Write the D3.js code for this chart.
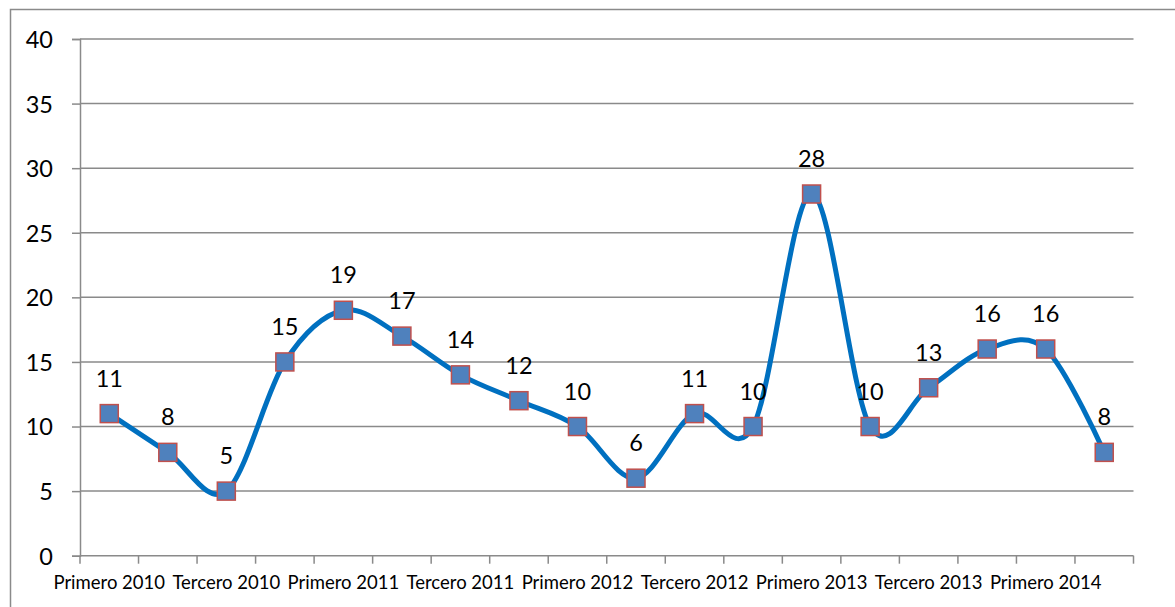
<!DOCTYPE html>
<html>
<head>
<meta charset="utf-8">
<script src="https://cdn.jsdelivr.net/npm/d3@7"></script>
<style>
  body { margin: 0; background: #fff; }
  svg { display: block; }
  text { font-family: Lato, "Open Sans", sans-serif; fill: #000; }
</style>
</head>
<body>
<svg id="chart" width="1175" height="607"></svg>
<script>
// quarters (trimestres) 2010 - 2014
const categories = [
  'Primero 2010', 'Segundo 2010', 'Tercero 2010', 'Cuarto 2010',
  'Primero 2011', 'Segundo 2011', 'Tercero 2011', 'Cuarto 2011',
  'Primero 2012', 'Segundo 2012', 'Tercero 2012', 'Cuarto 2012',
  'Primero 2013', 'Segundo 2013', 'Tercero 2013', 'Cuarto 2013',
  'Primero 2014', 'Segundo 2014'
];
const values = [11, 8, 5, 15, 19, 17, 14, 12, 10, 6, 11, 10, 28, 10, 13, 16, 16, 8];
const yTicks = [0, 5, 10, 15, 20, 25, 30, 35, 40];

const svg = d3.select('#chart');
const plotLeft = 80, plotRight = 1133.5, plotTop = 39, plotBottom = 555.7;
const grey = '#8a8a8a';

// outer chart border (only top and left show)
svg.append('rect')
  .attr('x', 10.5).attr('y', 9.5)
  .attr('width', 1200).attr('height', 700)
  .attr('fill', 'none').attr('stroke', grey).attr('stroke-width', 1.5);

const x = d3.scaleBand().domain(categories).range([plotLeft, plotRight]).padding(0);
const y = d3.scaleLinear().domain([0, 40]).range([plotBottom, plotTop]);

/// gridlines
svg.append('g').selectAll('line')
  .data(yTicks.filter(d => d > 0))
  .enter().append('line')
  .attr('x1', plotLeft).attr('x2', plotRight)
  .attr('y1', d => y(d)).attr('y2', d => y(d))
  .attr('stroke', grey).attr('stroke-width', 1.5);

/// y axis
const yAxis = svg.append('g')
  .attr('transform', `translate(${plotLeft},0)`)
  .call(d3.axisLeft(y).tickValues(yTicks).tickSize(8).tickPadding(19));
yAxis.select('.domain').attr('stroke', grey).attr('stroke-width', 1.5);
yAxis.selectAll('.tick line').attr('stroke', grey).attr('stroke-width', 1.5);
yAxis.selectAll('.tick text')
  .style('font-size', '23.5px').style('font-family', 'Lato, sans-serif')
  .attr('fill', '#000').attr('dy', '0.36em');

/// x axis : ticks on category boundaries, labels on every other category
const bounds = categories.map(c => x(c)).concat([plotRight]);
const xg = svg.append('g');
xg.append('line')
  .attr('x1', plotLeft).attr('x2', plotRight).attr('y1', plotBottom).attr('y2', plotBottom)
  .attr('stroke', grey).attr('stroke-width', 1.5);
xg.selectAll('line.tick')
  .data(bounds)
  .enter().append('line')
  .attr('class', 'tick')
  .attr('x1', d => d).attr('x2', d => d)
  .attr('y1', plotBottom).attr('y2', plotBottom + 8)
  .attr('stroke', grey).attr('stroke-width', 1.5);
xg.selectAll('text')
  .data(categories.filter((c, i) => i % 2 === 0))
  .enter().append('text')
  .attr('x', d => x(d) + x.bandwidth() / 2)
  .attr('y', 589)
  .attr('text-anchor', 'middle')
  .style('font-size', '18.5px')
  .text(d => d);

/// smoothed line
const points = values.map((v, i) => [x(categories[i]) + x.bandwidth() / 2, y(v)]);
svg.append('path')
  .attr('d', d3.line().curve(d3.curveCatmullRom.alpha(0))(points))
  .attr('fill', 'none')
  .attr('stroke', '#0070C0')
  .attr('stroke-width', 5);

/// markers
const ms = 18;
svg.append('g').selectAll('rect')
  .data(points)
  .enter().append('rect')
  .attr('x', d => d[0] - ms / 2).attr('y', d => d[1] - ms / 2)
  .attr('width', ms).attr('height', ms)
  .attr('fill', '#4F81BD')
  .attr('stroke', '#C0504D').attr('stroke-width', 1.5);

/// data labels
svg.append('g').selectAll('text')
  .data(values)
  .enter().append('text')
  .attr('x', (d, i) => points[i][0])
  .attr('y', (d, i) => points[i][1] - 27)
  .attr('text-anchor', 'middle')
  .style('font-size', '23.5px')
  .text(d => d);
</script>
</body>
</html>
